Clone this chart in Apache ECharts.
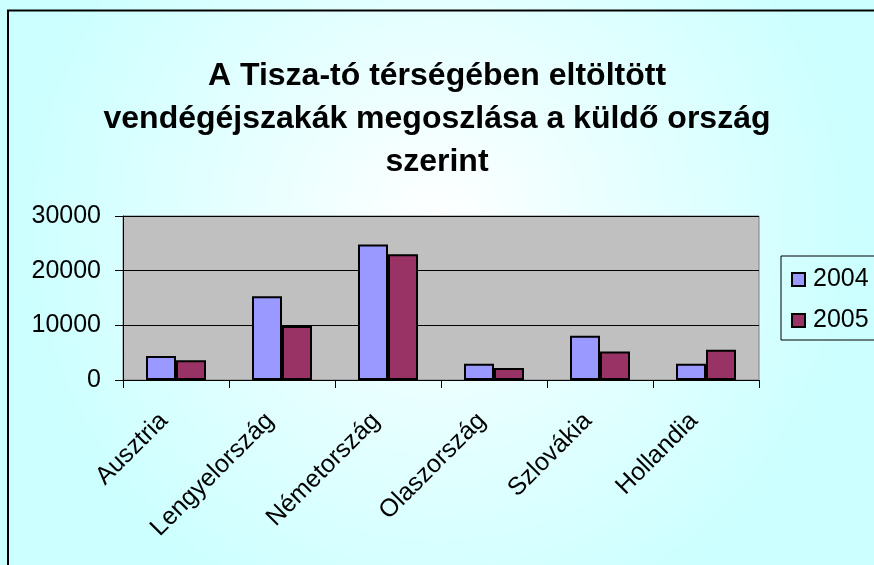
<!DOCTYPE html>
<html>
<head>
<meta charset="utf-8">
<script src="https://cdn.jsdelivr.net/npm/echarts@6/dist/echarts.min.js"></script>
<style>
html, body { margin: 0; padding: 0; }
#chart { width: 874px; height: 565px; }
</style>
</head>
<body>
<div id="chart"></div>
<script>
var countries = ['Ausztria', 'Lengyelország', 'Németország', 'Olaszország', 'Szlovákia', 'Hollandia'];
var years = ['2004', '2005'];
var values2004 = [4400, 15300, 24800, 2950, 8100, 2950];
var values2005 = [3600, 9900, 23000, 2200, 5200, 5550];
var yTicks = [0, 10000, 20000, 30000];

var myChart = echarts.init(document.getElementById('chart'));
var font = 'Liberation Sans, Arial, sans-serif';

var option = {
	backgroundColor: {
		type: 'radial', x: 0.5, y: 0.4, r: 0.75,
		colorStops: [
			{ offset: 0, color: '#ffffff' },
			{ offset: 0.55, color: '#e2ffff' },
			{ offset: 1, color: '#ccffff' }
		]
	},
	animation: false,
	graphic: [{
		type: 'polyline',
		shape: { points: [[8, 565], [8, 10.5], [874, 10.5]] },
		style: { stroke: '#000', lineWidth: 2, fill: null }
	}],
	title: {
		text: 'A Tisza-tó térségében eltöltött\nvendégéjszakák megoszlása a küldő ország\nszerint',
		left: 'center',
		top: 50,
		textStyle: {
			fontFamily: font,
			fontWeight: 'bold',
			fontSize: 32,
			lineHeight: 43,
			color: '#000'
		}
	},
	legend: {
		data: years,
		orient: 'vertical',
		left: 781,
		top: 256,
		padding: [11, 20, 7, 10],
		itemGap: 16,
		itemWidth: 13,
		itemHeight: 13,
		icon: 'rect',
		borderColor: '#000',
		borderWidth: 1,
		backgroundColor: 'transparent',
		textStyle: { fontFamily: font, fontSize: 25, color: '#000', padding: [0, 0, 0, 3] }
	},
	grid: {
		left: 123, right: 115, top: 216, bottom: 185,
		show: true,
		backgroundColor: '#c0c0c0',
		borderColor: '#808080',
		borderWidth: 1,
		containLabel: false
	},
	xAxis: {
		type: 'category',
		data: countries,
		axisLine: { lineStyle: { color: '#000', width: 1 } },
		axisTick: { show: true, inside: false, length: 8, lineStyle: { color: '#000' } },
		axisLabel: {
			rotate: 45,
			interval: 0,
			margin: 25,
			padding: [0, 17, 0, 0],
			fontFamily: font,
			fontSize: 25,
			color: '#000'
		}
	},
	yAxis: {
		type: 'value',
		min: yTicks[0],
		max: yTicks[yTicks.length - 1],
		interval: 10000,
		axisLine: { show: true, lineStyle: { color: '#000' } },
		axisTick: { show: true, length: 8, lineStyle: { color: '#000' } },
		splitLine: { show: true, lineStyle: { color: '#000', width: 1 } },
		axisLabel: {
			margin: 22,
			fontFamily: font,
			fontSize: 25,
			color: '#000',
			formatter: function (v) { return String(v); }
		}
	},
	series: [{
		name: years[0],
		type: 'bar',
		data: values2004,
		barWidth: 30,
		barGap: '0%',
		itemStyle: { color: '#9999ff', borderColor: '#000', borderWidth: 2 }
	}, {
		name: years[1],
		type: 'bar',
		data: values2005,
		barWidth: 30,
		barGap: '0%',
		itemStyle: { color: '#993366', borderColor: '#000', borderWidth: 2 }
	}]
};
myChart.setOption(option);
</script>
</body>
</html>
